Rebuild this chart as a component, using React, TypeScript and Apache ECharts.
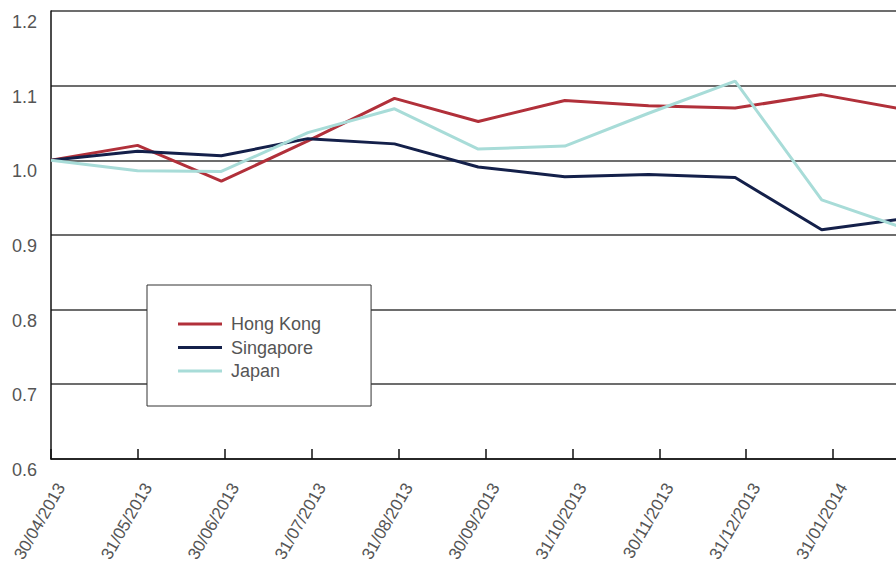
import React, { useEffect, useRef } from "react";
import * as echarts from "echarts";

const dateLabels = [
  "30/04/2013", "31/05/2013", "30/06/2013", "31/07/2013", "31/08/2013",
  "30/09/2013", "31/10/2013", "30/11/2013", "31/12/2013", "31/01/2014", "28/02/2014",
];
const hongKong = [1.0, 1.020, 0.972, 1.026, 1.083, 1.052, 1.080, 1.073, 1.070, 1.088, 1.069];
const singapore = [1.0, 1.012, 1.006, 1.029, 1.022, 0.991, 0.978, 0.981, 0.977, 0.907, 0.921];
const japan = [1.0, 0.986, 0.985, 1.037, 1.069, 1.015, 1.019, 1.063, 1.106, 0.947, 0.911];
const yTicks = ["0.6", "0.7", "0.8", "0.9", "1.0", "1.1", "1.2"];

const toDay = (s: string) => {
  const [d, m, y] = s.split("/").map(Number);
  return Date.UTC(y, m - 1, d) / 86400000;
};
const day0 = toDay(dateLabels[0]);
const days = dateLabels.map((s) => toDay(s) - day0);

const TICK_STEP = 31.12;

export default function App() {
  const ref = useRef<HTMLDivElement>(null);
  useEffect(() => {
    if (!ref.current) return;
    const chart = echarts.init(ref.current, undefined, { renderer: "svg" });
    const font = "Liberation Sans";
    const mk = (name: string, vals: number[], color: string) => ({
      name,
      type: "line",
      data: vals.map((v, i) => [days[i], v]),
      showSymbol: false,
      symbol: "none",
      lineStyle: { color, width: 3 },
      itemStyle: { color },
    });
    chart.setOption({
      animation: false,
      grid: { left: 51, top: 11, bottom: 104, right: 10, containLabel: false },
      xAxis: {
        type: "value",
        min: 0,
        max: TICK_STEP * (dateLabels.length - 1),
        interval: TICK_STEP,
        splitLine: { show: false },
        axisLine: { show: true, lineStyle: { color: "#111", width: 1.5 } },
        axisTick: { show: true, inside: true, length: 10, lineStyle: { color: "#111", width: 1.5 } },
        axisLabel: {
          rotate: 60,
          margin: 14,
          showMaxLabel: false,
          fontFamily: font,
          fontSize: 17,
          color: "#555",
          verticalAlign: "top",
          padding: [6, 5, 0, 0],
          formatter: (v: number) => dateLabels[Math.round(v / TICK_STEP)] ?? "",
        },
      },
      yAxis: {
        type: "value",
        min: 0.6,
        max: 1.2,
        interval: 0.1,
        axisLine: { show: true, lineStyle: { color: "#111", width: 1.5 } },
        axisTick: { show: false },
        splitLine: { show: true, lineStyle: { color: "#3c3c3c", width: 1.5 } },
        axisLabel: {
          margin: 14,
          fontFamily: font,
          fontSize: 18,
          color: "#555",
          verticalAlign: "top",
          lineHeight: 18,
          padding: [2, 0, 0, 0],
          formatter: (v: number) => yTicks[Math.round((v - 0.6) * 10)],
        },
      },
      legend: {
        orient: "vertical",
        left: 147,
        top: 285,
        padding: [30, 50, 26, 31],
        backgroundColor: "#fff",
        borderColor: "#333",
        borderWidth: 1,
        icon: "rect",
        itemWidth: 44,
        itemHeight: 3,
        itemGap: 5.5,
        textStyle: { fontFamily: font, fontSize: 18, color: "#555", padding: [0, 0, 0, 4] },
        data: ["Hong Kong", "Singapore", "Japan"],
      },
      series: [
        mk("Hong Kong", hongKong, "#B1303A"),
        mk("Singapore", singapore, "#14204A"),
        mk("Japan", japan, "#A8DCD8"),
      ],
    });
    return () => chart.dispose();
  }, []);
  return (
    <div style={{ position: "absolute", left: 0, top: 0, width: 896, height: 565, overflow: "hidden", background: "#fff" }}>
      <div ref={ref} style={{ width: 930, height: 565 }} />
    </div>
  );
}
